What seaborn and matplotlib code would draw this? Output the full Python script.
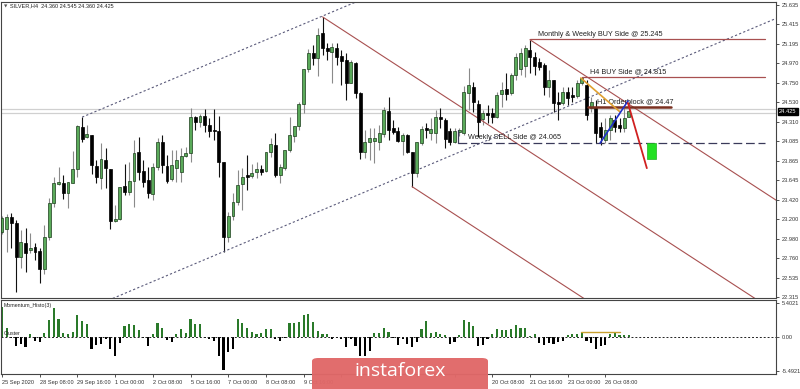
import numpy as np
import pandas as pd
import matplotlib
matplotlib.use("Agg")
import matplotlib.pyplot as plt
import matplotlib.transforms as mtransforms
from matplotlib.patches import Rectangle, FancyBboxPatch
import seaborn as sns

sns.set_style("white")
plt.rcParams['font.family'] = ['Liberation Sans', 'DejaVu Sans']

# ---------------- data ----------------
opens = [23.05, 23.09, 23.22, 23.16, 22.77, 22.93, 22.85, 22.88, 22.84, 22.63,
         23.00, 23.38, 23.60, 23.61, 23.50, 23.61, 23.77, 24.25, 24.13, 24.16,
         23.80, 23.67, 23.87, 23.77, 23.18, 23.20, 23.58, 23.51, 23.63, 23.96,
         23.75, 23.65, 23.49, 23.79, 24.08, 23.80, 23.66, 23.78, 23.74, 23.92,
         23.95, 24.36, 24.31, 24.37, 24.27, 24.21, 24.20, 23.85, 23.00, 23.24,
         23.40, 23.60, 23.70, 23.69, 23.74, 23.77, 23.75, 23.96, 24.04, 23.70,
         23.78, 23.99, 24.15, 24.26, 24.51, 24.91, 25.09, 25.03, 25.32, 25.15,
         25.10, 25.15, 25.06, 25.01, 24.75, 24.98, 24.63, 23.96, 24.08, 24.09,
         24.08, 24.17, 24.43, 24.24, 24.20, 24.09, 24.16, 23.96, 23.72, 24.07,
         24.24, 24.18, 24.18, 24.36, 24.33, 24.20, 24.08, 24.19, 24.18, 24.63,
         24.70, 24.51, 24.34, 24.41, 24.41, 24.36, 24.62, 24.68, 24.63, 24.84,
         24.91, 24.94, 25.12, 25.04, 24.99, 24.95, 24.70, 24.78, 24.53, 24.52,
         24.65, 24.61, 24.60, 24.75, 24.73, 24.46, 24.48, 24.25, 24.10, 24.21,
         24.33, 24.27, 24.24, 24.36]
highs = [23.24, 23.26, 23.27, 23.19, 23.08, 23.10, 23.04, 22.93, 22.87, 23.13,
         23.44, 23.68, 23.79, 23.70, 23.62, 23.97, 24.27, 24.36, 24.27, 24.16,
         23.87, 24.07, 24.01, 23.77, 23.36, 23.57, 23.83, 23.85, 24.10, 24.13,
         23.87, 23.79, 23.84, 24.12, 24.16, 23.93, 23.99, 23.99, 24.01, 24.02,
         24.46, 24.37, 24.40, 24.45, 24.35, 24.45, 24.37, 23.85, 23.28, 23.50,
         23.76, 23.78, 23.93, 23.83, 23.85, 23.82, 23.96, 24.12, 24.18, 23.83,
         23.99, 24.36, 24.26, 24.53, 24.91, 25.13, 25.18, 25.37, 25.50, 25.20,
         25.20, 25.20, 25.12, 25.09, 25.01, 24.99, 24.65, 24.21, 24.24, 24.24,
         24.27, 24.48, 24.59, 24.33, 24.25, 24.18, 24.17, 23.96, 24.08, 24.26,
         24.29, 24.35, 24.44, 24.46, 24.35, 24.24, 24.24, 24.24, 24.71, 24.92,
         24.76, 24.56, 24.44, 24.50, 24.46, 24.65, 24.76, 24.86, 24.86, 25.09,
         25.15, 25.18, 25.24, 25.10, 25.03, 24.98, 24.90, 24.78, 24.65, 24.70,
         24.70, 24.70, 24.78, 24.82, 24.78, 24.59, 24.56, 24.31, 24.35, 24.38,
         24.38, 24.35, 24.46, 24.545]
lows = [23.03, 22.83, 22.87, 22.37, 22.65, 22.60, 22.82, 22.74, 22.47, 22.58,
        22.96, 23.34, 23.59, 23.43, 23.33, 23.61, 23.68, 24.08, 24.12, 23.71,
        23.61, 23.54, 23.55, 23.09, 23.17, 23.19, 23.48, 23.48, 23.34, 23.65,
        23.57, 23.44, 23.42, 23.76, 23.72, 23.61, 23.63, 23.62, 23.62, 23.91,
        23.85, 24.21, 24.25, 24.19, 24.13, 24.10, 23.68, 22.83, 22.94, 23.19,
        23.36, 23.30, 23.53, 23.67, 23.67, 23.70, 23.74, 23.91, 23.68, 23.61,
        23.76, 23.96, 24.08, 24.21, 24.41, 24.87, 24.95, 24.83, 25.07, 25.01,
        24.75, 24.95, 24.73, 24.56, 24.75, 24.58, 23.88, 23.90, 23.87, 23.84,
        23.99, 24.13, 24.10, 24.17, 24.08, 23.93, 23.95, 23.57, 23.68, 24.04,
        24.12, 24.10, 24.07, 24.24, 24.01, 24.04, 24.07, 24.15, 24.16, 24.44,
        24.42, 24.13, 24.27, 24.29, 24.29, 24.35, 24.48, 24.56, 24.61, 24.78,
        24.84, 24.82, 24.86, 24.84, 24.90, 24.61, 24.59, 24.42, 24.33, 24.50,
        24.50, 24.53, 24.58, 24.73, 24.33, 24.42, 24.07, 24.04, 24.07, 24.10,
        24.19, 24.19, 24.19, 24.36]
closes = [23.21, 23.22, 23.16, 22.77, 22.94, 22.82, 22.87, 22.83, 22.63, 23.00,
          23.38, 23.61, 23.62, 23.50, 23.62, 23.77, 24.26, 24.11, 24.17, 23.82,
          23.68, 23.88, 23.78, 23.18, 23.20, 23.57, 23.51, 23.63, 23.95, 23.74,
          23.62, 23.50, 23.79, 24.08, 23.82, 23.63, 23.82, 23.87, 23.92, 23.95,
          24.36, 24.31, 24.37, 24.27, 24.20, 24.20, 23.85, 23.00, 23.24, 23.40,
          23.59, 23.68, 23.68, 23.72, 23.77, 23.74, 23.96, 24.05, 23.70, 23.79,
          23.99, 24.16, 24.26, 24.51, 24.91, 25.09, 25.03, 25.29, 25.15, 25.11,
          25.16, 25.04, 25.00, 24.75, 24.99, 24.63, 23.96, 24.08, 24.12, 24.12,
          24.18, 24.44, 24.21, 24.19, 24.09, 24.16, 23.96, 23.72, 24.08, 24.23,
          24.21, 24.23, 24.36, 24.34, 24.11, 24.08, 24.20, 24.21, 24.65, 24.73,
          24.53, 24.31, 24.41, 24.38, 24.36, 24.61, 24.67, 24.62, 24.84, 25.04,
          25.09, 25.15, 25.04, 24.94, 24.93, 24.70, 24.78, 24.52, 24.51, 24.65,
          24.58, 24.59, 24.75, 24.81, 24.38, 24.53, 24.18, 24.13, 24.21, 24.35,
          24.25, 24.24, 24.35, 24.425]
momentum = [4.8, 1.4, -0.2, -1.5, -1.2, -1.6, 0.5, -0.7, -0.8, 0.6,
            2.6, 4.6, 2.9, 0.6, 0.4, 0.7, 3.5, 2.5, 2.0, -2.0,
            -1.4, -1.1, -0.3, -2.0, -3.1, -1.0, 1.7, 2.0, 1.8, 1.1,
            -0.2, -1.5, 0.4, 2.2, 1.4, -0.5, -0.8, 0.4, 1.3, 0.6,
            2.9, 2.0, 2.0, -0.2, -0.3, -0.7, -3.1, -5.4, -2.5, -2.0,
            2.8, 2.2, 1.4, 0.7, 0.5, 0.6, 1.2, 1.3, -0.3, -0.7,
            -0.2, 2.2, 2.2, 2.3, 3.5, 3.7, 2.3, 0.9, 0.4, 0.4,
            -0.3, -0.2, -0.3, -1.7, -0.4, -1.5, -3.1, -3.1, -2.3, 0.6,
            0.6, 1.4, 0.7, -0.2, -1.4, -0.3, -1.2, -1.6, -0.8, 1.3,
            2.5, 0.6, 0.7, 0.5, 0.2, -1.2, -0.8, 0.2, 2.6, 2.3,
            1.7, -1.5, -1.4, -0.3, 0.4, 1.2, 1.1, 1.1, 1.2, 1.8,
            1.4, 1.4, 0.1, 0.5, -1.0, -1.4, -1.0, -1.1, -0.8, -0.7,
            0.2, 0.5, 0.5, 0.6, -0.7, -1.0, -1.9, -1.5, -1.4, 0.5,
            0.6, 0.2, 0.3, 0.2]

price_ticks = [25.635, 25.415, 25.195, 24.970, 24.750, 24.530, 24.310, 24.085,
               23.865, 23.645, 23.420, 23.200, 22.980, 22.760, 22.535, 22.315]
date_tick_bars = [0, 8, 16, 24, 32, 40, 48, 56, 64, 72, 80, 88, 96, 104, 112, 120, 128]
# labels at bars 72-96 are hidden behind the logo in the reference
date_tick_labels = ["25 Sep 2020", "28 Sep 08:00", "29 Sep 16:00", "1 Oct 00:00",
                    "2 Oct 08:00", "5 Oct 16:00", "7 Oct 00:00", "8 Oct 08:00",
                    "9 Oct 16:00", "", "", "", "", "20 Oct 08:00", "21 Oct 16:00",
                    "23 Oct 00:00", "26 Oct 08:00"]
momentum_ticks = [5.4021, 0.0, -5.4921]
momentum_tick_labels = ["5.4021", "0.00", "-5.4921"]

# annotation lines (bar index, price)
upper_channel_x = [17, 80]
upper_channel_y = [24.36, 25.78]
lower_channel_x = [20, 165]
lower_channel_y = [22.22, 25.50]
red_a_x = [68, 162]
red_a_y = [25.50, 22.22]
red_b_x = [87, 126]
red_b_y = [23.57, 22.21]
red_c_x = [112, 164.4]
red_c_y = [25.24, 23.41]

level_names = ["Monthly & Weekly BUY Side @ 25.245", "H4 BUY Side @ 24.815",
               "H1 Orderblock @ 24.47", "Weekly SELL Side @ 24.065"]
level_prices = [25.245, 24.815, 24.47, 24.065]
level_start = [112, 123, 124.3, 96.7]
level_end = [161.9, 161.9, 141.9, 161.9]

orange_x = [122.8, 131.1]
orange_y = [24.805, 24.42]
blue_x = [126.9, 132.8]
blue_y = [24.066, 24.545]
redarrow_x = [132.8, 136.8]
redarrow_y = [24.52, 23.78]
target_box = (136.8, 138.7, 23.884, 24.066)
last_price = 24.425

# ---------------- figure ----------------
W, H = 800, 389
fig = plt.figure(figsize=(8, 3.89), dpi=100)
fig.patch.set_facecolor("white")
ax = fig.add_axes([1 / W, 1 - 298 / H, 775 / W, 296 / H])
ax2 = fig.add_axes([1 / W, 1 - 374 / H, 775 / W, 74 / H])

n = len(opens)
bars = np.arange(n)
o = np.array(opens); c = np.array(closes); hi = np.array(highs); lo = np.array(lows)
up = c >= o

# wicks
ax.vlines(bars[up], lo[up], hi[up], color="#8a8a8a", lw=0.8, zorder=2)
ax.vlines(bars[~up], lo[~up], hi[~up], color="#111111", lw=0.8, zorder=2)
# bodies
bottoms = np.minimum(o, c)
heights = np.maximum(np.abs(c - o), 0.012)
ax.bar(bars[up], heights[up], bottom=bottoms[up], width=0.62, color="#5aaa5a",
       edgecolor="#1b3d1b", linewidth=0.5, zorder=3)
ax.bar(bars[~up], heights[~up], bottom=bottoms[~up], width=0.62, color="#000000",
       edgecolor="#000000", linewidth=0.5, zorder=3)

# current price lines
ax.axhline(24.45, color="#d0d0d0", lw=0.9, zorder=1)
ax.axhline(24.41, color="#d0d0d0", lw=0.9, zorder=1)

# channel lines
sns.lineplot(x=upper_channel_x, y=upper_channel_y, ax=ax, color="#5a5a7a",
             lw=0.8, linestyle=(0, (2, 2)), zorder=2)
sns.lineplot(x=lower_channel_x, y=lower_channel_y, ax=ax, color="#5a5a7a",
             lw=0.8, linestyle=(0, (2, 2)), zorder=2)
for xs, ys in [(red_a_x, red_a_y), (red_b_x, red_b_y), (red_c_x, red_c_y)]:
    sns.lineplot(x=xs, y=ys, ax=ax, color="#a85050", lw=0.8, zorder=2)

# levels
lvl_colors = ["#a85050", "#a85050", "#7a3020", "#3a3a5a"]
lvl_lw = [0.9, 0.9, 1.8, 0.9]
for i, (p, s, e) in enumerate(zip(level_prices, level_start, level_end)):
    ls = (0, (7, 3)) if i == 3 else "-"
    ax.plot([s, e], [p, p], color=lvl_colors[i], lw=lvl_lw[i], linestyle=ls, zorder=4)
ax.plot([level_start[3], level_start[3]], [24.21, level_prices[3]], color="#3a3a5a", lw=0.9, zorder=4)

text_x = [113.7, 124.7, 126.2, 98.9]
text_y = [25.30, 24.875, 24.53, 24.126]
for name, tx, ty in zip(level_names, text_x, text_y):
    ax.text(tx, ty, name, fontsize=5.2, color="#222222", va="center", ha="left", zorder=5)

ax.plot(orange_x, orange_y, color="#e0a030", lw=1.2, zorder=5)
ax.plot(blue_x, blue_y, color="#2030c8", lw=1.2, zorder=5)
ax.plot(redarrow_x, redarrow_y, color="#d02020", lw=1.3, zorder=5)
bx0, bx1, by0, by1 = target_box
ax.add_patch(Rectangle((bx0, by0), bx1 - bx0, by1 - by0, facecolor="#22e022",
                       edgecolor="#22b022", lw=0.5, zorder=5))

ax.set_xlim(-0.21, 164.2)
ax.set_ylim(22.304, 25.669)
ax.set_xticks([])
ax.yaxis.tick_right()
ax.set_yticks(price_ticks)
ax.set_yticklabels([f"{v:.3f}" for v in price_ticks])
ax.tick_params(axis="y", labelsize=4.1, length=2.5, width=0.6, pad=1.5,
               colors="#333333", right=True, left=False)
for sp in ax.spines.values():
    sp.set_color("#444444"); sp.set_linewidth(0.8)
ax.set_ylabel(""); ax.set_xlabel("")

trans = mtransforms.blended_transform_factory(ax.transAxes, ax.transData)
ax.text(1.004, last_price, "24.425", transform=trans, fontsize=4.1, color="white",
        va="center", ha="left", zorder=6,
        bbox=dict(boxstyle="square,pad=0.25", facecolor="black", edgecolor="black"))

# ---------------- momentum panel ----------------
mdf = pd.DataFrame({"bar": bars, "mom": momentum,
                    "sign": np.where(np.array(momentum) >= 0, "up", "down")})
sns.barplot(data=mdf, x="bar", y="mom", hue="sign", native_scale=True, dodge=False,
            palette={"up": "#2a7a2a", "down": "#000000"}, width=0.45,
            saturation=1, errorbar=None, legend=False, linewidth=0, ax=ax2)
ax2.axhline(0, color="#222222", lw=0.7, linestyle=(0, (2, 2)))
ax2.plot([122.8, 131.0], [0.8, 0.8], color="#c8a030", lw=1.0)
ax2.set_xlim(-0.21, 164.2)
ax2.set_ylim(-5.97, 5.88)
ax2.yaxis.tick_right()
ax2.set_yticks(momentum_ticks)
ax2.set_yticklabels(momentum_tick_labels)
ax2.set_xticks(date_tick_bars)
ax2.set_xticklabels(date_tick_labels)
for lab in ax2.get_xticklabels():
    lab.set_ha("left")
ax2.tick_params(axis="y", labelsize=4.1, length=2.5, width=0.6, pad=1.5,
                colors="#333333", right=True, left=False)
ax2.tick_params(axis="x", labelsize=4.1, length=2.5, width=0.6, pad=1.5,
                colors="#333333", bottom=True)
ax2.set_ylabel(""); ax2.set_xlabel("")
for sp in ax2.spines.values():
    sp.set_color("#444444"); sp.set_linewidth(0.8)
ax2.text(0.003, 0.93, "Momentum_Histo(3)", transform=ax2.transAxes, fontsize=3.8,
         color="#222222", va="center", ha="left")
ax2.text(0.003, 0.55, "Cluster", transform=ax2.transAxes, fontsize=3.8,
         color="#222222", va="center", ha="left")

# title
fig.text(4 / W, 1 - 6 / H, "\u25BC", fontsize=3.2, color="#555555", va="center",
         ha="left", family="DejaVu Sans")
fig.text(10 / W, 1 - 6 / H, "SILVER,H4  24.360 24.545 24.360 24.425", fontsize=4.0,
         color="#222222", va="center", ha="left")

# logo
logo = FancyBboxPatch((312 / W, -0.02), 176 / W, 31 / H + 0.02,
                      boxstyle="round,pad=0,rounding_size=0.008",
                      transform=fig.transFigure, facecolor="#e06868",
                      edgecolor="none", alpha=0.97, zorder=5)
fig.patches.append(logo)
fig.text(400 / W, 1 - 371 / H, "instaforex", fontsize=14, color="white",
         ha="center", va="center", family=["Open Sans", "DejaVu Sans"], zorder=6)

fig.savefig("out.png", dpi=100)
